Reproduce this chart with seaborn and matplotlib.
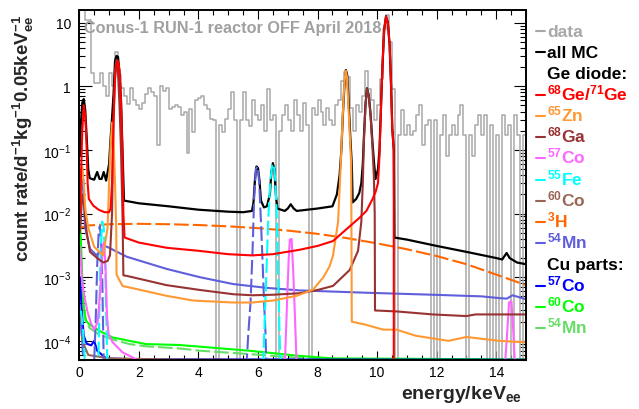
import numpy as np
import matplotlib
matplotlib.use("Agg")
import matplotlib.pyplot as plt
from matplotlib.lines import Line2D
from matplotlib.ticker import FixedLocator, FixedFormatter, MultipleLocator, LogLocator, NullFormatter
import seaborn as sns

# ---------------------------------------------------------------- data
# measured spectrum (reactor OFF), 0.1 keV wide bins starting at 0 keV
data_bin_width = 0.1
data_rate = [
    30, 30, 11, 11, 1.64, 1.14, 1.14, 1.64, 1.0, 0.71,
    1.6, 1.0, 3.4, 1.5, 0.95, 0.71, 0.52, 0.95, 0.6, 0.5,
    0.44, 0.55, 0.75, 0.95, 0.8, 0.7, 0.12, 1.0, 0.85, 0.95,
    0.44, 0.48, 0.5, 0.48, 0.35, 0.4, 0.09, 0.44, 0.19, 0.6,
    0.65, 0.7, 0.5, 0.44, 0.31, 0.3, 0, 0.25, 0.19, 0.31,
    0.44, 0.8, 0.3, 0, 0.3, 0.8, 0.3, 0.24, 0.6, 0.35,
    0.3, 0.5, 0.2, 0.9, 0.3, 0.35, 0, 0.2, 0.35, 0.5,
    0.3, 0.2, 0.6, 0.35, 0.2, 0.55, 0.25, 0, 0.45, 0.35,
    0.6, 0.4, 0.25, 0.45, 0.3, 0.25, 0.5, 0.6, 1.2, 1.7,
    1.4, 0.45, 0.2, 0.5, 0.4, 0.7, 1.76, 0.9, 0.6, 0.3,
    0.5, 1.3, 8, 13, 5, 0.9, 0, 0.17, 0.43, 0.17,
    0.25, 0.17, 0.2, 0.35, 0.5, 0.12, 0.25, 0.3, 0, 0.3,
    0, 0.17, 0.35, 0.08, 0.17, 0.25, 0.17, 0.35, 0.5, 0.17,
    0, 0.17, 0.08, 0.25, 0.35, 0.17, 0.35, 0, 0.25, 0,
    0.17, 0, 0.35, 0.17, 0.25, 0, 0.35, 0.17, 0, 0.17,
]

# simulated components as (energy keV, rate) points
all_mc = [(0.02, 0.08), (0.05, 0.25), (0.1, 0.55), (0.15, 0.63), (0.2, 0.42), (0.25, 0.15),
          (0.3, 0.05), (0.35, 0.036), (0.5, 0.034), (0.6, 0.045), (0.68, 0.035), (0.75, 0.035),
          (0.82, 0.045), (0.9, 0.033), (1.0, 0.06), (1.05, 0.15), (1.1, 0.32), (1.15, 0.75),
          (1.2, 2.5), (1.25, 3.0), (1.3, 2.9), (1.35, 1.6), (1.4, 0.6), (1.45, 0.1), (1.5, 0.016),
          (2.0, 0.0145), (3.0, 0.013), (4.0, 0.0115), (5.0, 0.0107), (5.5, 0.0105), (5.8, 0.011),
          (5.85, 0.015), (5.9, 0.035), (5.95, 0.055), (6.0, 0.052), (6.05, 0.033), (6.1, 0.016),
          (6.2, 0.0125), (6.3, 0.013), (6.4, 0.02), (6.45, 0.045), (6.5, 0.062), (6.55, 0.05),
          (6.6, 0.02), (6.65, 0.012), (6.9, 0.011), (7.0, 0.012), (7.1, 0.014), (7.2, 0.012),
          (7.3, 0.011), (8.0, 0.012), (8.5, 0.013), (8.65, 0.02), (8.74, 0.04), (8.8, 0.1),
          (8.85, 0.35), (8.9, 0.95), (8.95, 1.8), (9.0, 1.45), (9.05, 0.5), (9.1, 0.16),
          (9.15, 0.06), (9.18, 0.015), (9.3, 0.017), (9.4, 0.021), (9.47, 0.03), (9.52, 0.06),
          (9.56, 0.17), (9.61, 0.52), (9.66, 0.93), (9.72, 0.72), (9.78, 0.37), (9.84, 0.14),
          (9.9, 0.06), (9.95, 0.035), (10.03, 0.05), (10.08, 0.1), (10.13, 0.47), (10.18, 2.1),
          (10.24, 8.0), (10.3, 12.6), (10.36, 10.0), (10.42, 4.5), (10.47, 1.0), (10.51, 0.22),
          (10.56, 0.1), (10.58, 0.0042), (11.0, 0.0039), (12.0, 0.0031), (13.0, 0.0025),
          (14.0, 0.002), (14.2, 0.0019), (14.35, 0.0024), (14.45, 0.002), (14.7, 0.0017),
          (15.0, 0.0016)]

ge68_ge71 = [(0.02, 0.01), (0.05, 0.03), (0.1, 0.2), (0.15, 0.5), (0.2, 0.35), (0.25, 0.1),
             (0.28, 0.03), (0.32, 0.017), (0.47, 0.0133), (0.65, 0.0115), (0.85, 0.0105),
             (1.0, 0.0105), (1.05, 0.012), (1.1, 0.03), (1.15, 0.3), (1.2, 1.3), (1.25, 2.2),
             (1.3, 2.5), (1.35, 1.8), (1.4, 0.6), (1.45, 0.08), (1.48, 0.01), (1.52, 0.0042),
             (2.0, 0.0035), (2.93, 0.0029), (4.0, 0.0026), (5.0, 0.0023), (5.8, 0.0022),
             (6.5, 0.0023), (7.4, 0.0027), (8.0, 0.0031), (8.52, 0.0037), (9.08, 0.0063),
             (9.4, 0.0085), (9.64, 0.011), (9.85, 0.017), (9.95, 0.022), (10.03, 0.03),
             (10.08, 0.08), (10.13, 0.45), (10.18, 2.1), (10.24, 8.0), (10.3, 12.5),
             (10.36, 10.0), (10.42, 4.5), (10.47, 1.0), (10.51, 0.21), (10.56, 0.1), (10.57, 0.0)]

zn65 = [(0.02, 0.01), (0.06, 0.05), (0.1, 0.055), (0.15, 0.03), (0.2, 0.012), (0.3, 0.006),
        (0.5, 0.003), (0.8, 0.0022), (0.95, 0.006), (1.0, 0.03), (1.05, 0.12), (1.1, 0.27),
        (1.15, 0.15), (1.2, 0.03), (1.24, 0.006), (1.25, 0.0011), (1.45, 0.00073),
        (2.93, 0.00051), (3.82, 0.00043), (5.17, 0.0004), (5.8, 0.0004), (6.5, 0.00043),
        (7.3, 0.00051), (7.85, 0.00064), (8.19, 0.00099), (8.41, 0.0015), (8.52, 0.0022),
        (8.69, 0.0074), (8.74, 0.024), (8.79, 0.08), (8.84, 0.3), (8.89, 0.9), (8.94, 1.76),
        (8.99, 1.4), (9.04, 0.45), (9.09, 0.15), (9.13, 0.06), (9.15, 0.0002), (9.6, 0.00018),
        (10.2, 0.00015), (10.65, 0.00015), (11.3, 0.00012), (12.4, 0.0001), (13.0, 0.000115),
        (14.1, 0.0001), (14.75, 0.000096), (15.0, 0.000095)]

ga68 = [(0.02, 0.005), (0.1, 0.02), (0.15, 0.015), (0.25, 0.005), (0.36, 0.0025), (0.6, 0.002),
        (0.81, 0.0017), (0.95, 0.0018), (1.03, 0.0022), (1.1, 0.01), (1.15, 0.3), (1.2, 1.8),
        (1.25, 2.6), (1.3, 1.6), (1.35, 0.5), (1.4, 0.1), (1.45, 0.01), (1.48, 0.00107),
        (1.59, 0.00105), (2.93, 0.00075), (4.05, 0.00063), (5.17, 0.00054), (5.82, 0.00052),
        (6.5, 0.00053), (7.4, 0.00056), (8.0, 0.00063), (8.52, 0.00073), (9.08, 0.0013),
        (9.36, 0.0026), (9.47, 0.0074), (9.52, 0.03), (9.56, 0.15), (9.61, 0.5), (9.66, 0.91),
        (9.72, 0.7), (9.78, 0.35), (9.84, 0.12), (9.89, 0.04), (9.92, 0.01), (9.93, 0.0003),
        (10.65, 0.00029), (11.87, 0.00026), (13.0, 0.000245), (13.3, 0.00026), (14.1, 0.00026),
        (15.0, 0.00026)]

co57_ge = [(0.02, 0.003), (0.1, 0.0008), (0.17, 0.0005), (0.28, 0.00028), (0.39, 0.00019),
           (0.5, 0.00015), (0.62, 0.0002), (0.72, 0.0008), (0.78, 0.003), (0.83, 0.0035),
           (0.88, 0.0015), (0.93, 0.00025), (0.98, 0.00013), (1.12, 0.000095), (1.45, 0.000066),
           (1.79, 0.000055), (2.1, 0.000045), (6.9, 0.00004), (6.98, 0.00045), (7.03, 0.0019),
           (7.07, 0.0039), (7.13, 0.004), (7.19, 0.00105), (7.24, 0.00025), (7.3, 0.00004),
           (14.29, 0.00004), (14.35, 0.0001), (14.43, 0.0004), (14.51, 0.00042),
           (14.57, 0.00015), (14.63, 0.00004), (15.0, 0.00004)]

fe55 = [(0.05, 0.0003), (0.1, 0.0002), (0.15, 0.0001), (0.2, 0.00003), (0.6, 0.00003),
        (0.64, 0.00005), (0.68, 0.0004), (0.72, 0.003), (0.77, 0.0075), (0.82, 0.006),
        (0.87, 0.0015), (0.91, 0.0002), (0.95, 0.00003), (6.15, 0.00003), (6.18, 0.00005),
        (6.23, 0.00024), (6.29, 0.0015), (6.35, 0.0093), (6.42, 0.035), (6.48, 0.058),
        (6.53, 0.06), (6.58, 0.035), (6.63, 0.0093), (6.68, 0.00084), (6.74, 0.000074),
        (6.78, 0.00003), (15.0, 0.00003)]

co60_ge = [(0.02, 0.0003), (0.1, 0.0001), (0.3, 0.00006), (1.0, 0.000053), (3.0, 0.000051),
           (15.0, 0.000048)]

h3 = [(0.05, 0.006), (0.3, 0.0065), (1.0, 0.0068), (2.0, 0.0069), (3.0, 0.0068), (4.0, 0.0066),
      (5.0, 0.0063), (6.0, 0.0059), (7.0, 0.0054), (8.0, 0.0048), (9.0, 0.0041), (10.0, 0.0034),
      (11.0, 0.00275), (12.0, 0.00215), (13.0, 0.0016), (14.0, 0.0011), (15.0, 0.00075)]

mn54_ge = [(0.02, 0.005), (0.08, 0.03), (0.13, 0.035), (0.19, 0.0062), (0.36, 0.0028),
           (0.58, 0.0022), (0.7, 0.0025), (0.86, 0.0031), (1.0, 0.0029), (1.59, 0.0021),
           (2.93, 0.00135), (4.05, 0.001), (5.17, 0.00078), (6.29, 0.00068), (7.4, 0.00062),
           (9.64, 0.00057), (11.87, 0.00053), (13.5, 0.0005), (14.1, 0.00047), (14.35, 0.00046),
           (14.55, 0.00052), (14.8, 0.00048), (15.0, 0.00045)]

# Cr X-ray lines from 54Mn electron capture in the diode
mn54_ge_lines = [(0.05, 0.0002), (0.1, 0.0001), (0.15, 0.00003), (0.45, 0.00003), (0.5, 0.00005),
                 (0.55, 0.0002), (0.6, 0.0015), (0.65, 0.005), (0.69, 0.0064), (0.73, 0.004),
                 (0.77, 0.001), (0.8, 0.00015), (0.83, 0.00003), (5.6, 0.00003), (5.67, 0.00012),
                 (5.75, 0.0004), (5.82, 0.0028), (5.87, 0.017), (5.93, 0.05), (5.99, 0.055),
                 (6.04, 0.031), (6.1, 0.0074), (6.16, 0.0015), (6.2, 0.00045), (6.25, 0.00014),
                 (6.29, 0.00003), (15.0, 0.00003)]

co57_cu = [(0.02, 0.001), (0.08, 0.0003), (0.15, 0.00012), (0.25, 0.00009), (0.4, 0.000085),
           (0.5, 0.0001), (0.6, 0.00007), (0.9, 0.000053), (2.0, 0.0000512), (15.0, 0.0000505)]

co60_cu = [(0.02, 0.008), (0.05, 0.004), (0.1, 0.001), (0.15, 0.00035), (0.22, 0.00021),
           (0.34, 0.00018), (0.67, 0.000144), (1.12, 0.000113), (1.68, 0.0001), (2.24, 0.000089),
           (3.36, 0.000086), (4.05, 0.000081), (5.7, 0.00007), (7.4, 0.000058), (8.5, 0.000053),
           (15.0, 0.000051)]

mn54_cu = [(0.02, 0.005), (0.05, 0.002), (0.1, 0.0006), (0.15, 0.0003), (0.2, 0.00022),
           (0.34, 0.00016), (0.67, 0.000125), (1.12, 0.000105), (1.68, 0.000089),
           (2.24, 0.000082), (3.36, 0.000076), (4.05, 0.00007), (5.7, 0.000062), (7.4, 0.000054),
           (9.0, 0.000051), (15.0, 0.000048)]

y_tick_values = [1e-4, 1e-3, 1e-2, 1e-1, 1, 10]
y_tick_labels = [r"$\mathregular{10^{-4}}$", r"$\mathregular{10^{-3}}$", r"$\mathregular{10^{-2}}$",
                 r"$\mathregular{10^{-1}}$", "1", "10"]
x_tick_values = [0, 2, 4, 6, 8, 10, 12, 14]

# ---------------------------------------------------------------- style
sns.set_theme(style="ticks")
plt.rcParams["font.family"] = ["Liberation Sans", "DejaVu Sans"]
plt.rcParams["mathtext.fontset"] = "custom"
plt.rcParams["mathtext.rm"] = "Liberation Sans"
plt.rcParams["mathtext.bf"] = "Liberation Sans:bold"
plt.rcParams["mathtext.default"] = "regular"

C_DATA = "#a8a8a8"
C_TITLE = "#a0a0a0"
C_GE = "#ff0000"
C_ZN = "#ff9933"
C_GA = "#993333"
C_CO57 = "#ff66ff"
C_FE = "#00ffff"
C_CO60 = "#996655"
C_H3 = "#ff6600"
C_MN = "#5f5fdc"
C_CO57CU = "#0000ff"
C_CO60CU = "#00ff00"
C_MNCU = "#66dd66"

W, H = 639, 410
fig = plt.figure(figsize=(W / 100, H / 100), dpi=100)
ax = fig.add_axes([79.3 / W, 1 - 361 / H, 446.7 / W, 350 / H])

DASH = (0, (7, 2))


def draw(points, color, lw=1.5, ls="-", z=2):
    e, r = zip(*points)
    sns.lineplot(x=np.array(e), y=np.array(r), ax=ax, color=color, lw=lw, linestyle=ls,
                 estimator=None, sort=False, legend=False, zorder=z)


# measured spectrum as a step histogram
edges = np.arange(len(data_rate) + 1) * data_bin_width
sns.lineplot(x=edges, y=np.append(data_rate, data_rate[-1]), ax=ax, color=C_DATA, lw=1.1,
             drawstyle="steps-post", estimator=None, sort=False, legend=False, zorder=1)

draw(all_mc, "black", lw=1.6, z=2)
draw(mn54_cu, C_MNCU, ls=DASH)
draw(co60_cu, C_CO60CU)
draw(co57_cu, C_CO57CU)
draw(co60_ge, C_CO60)
draw(h3, C_H3, ls=DASH)
draw(mn54_ge, C_MN)
draw(mn54_ge_lines, C_MN, ls=DASH)
draw(fe55, C_FE, ls=DASH)
draw(co57_ge, C_CO57)
draw(ga68, C_GA)
draw(zn65, C_ZN)
draw(ge68_ge71, C_GE)

ax.set_yscale("log")
ax.set_xlim(0, 15)
ax.set_ylim(5e-5, 15.8)

# ---------------------------------------------------------------- axes
ax.xaxis.set_major_locator(FixedLocator(x_tick_values))
ax.xaxis.set_minor_locator(MultipleLocator(0.5))
ax.yaxis.set_major_locator(FixedLocator(y_tick_values))
ax.yaxis.set_major_formatter(FixedFormatter(y_tick_labels))
ax.yaxis.set_minor_locator(LogLocator(base=10, subs=np.arange(2, 10)))
ax.yaxis.set_minor_formatter(NullFormatter())

ax.tick_params(axis="both", which="both", direction="in", top=True, right=True,
               colors="black", width=0.8, labelsize=10)
ax.tick_params(axis="x", which="major", length=6.5, pad=3.5)
ax.tick_params(axis="x", which="minor", length=3.5)
ax.tick_params(axis="y", which="major", length=9, pad=6)
ax.tick_params(axis="y", which="minor", length=4.5)
for s in ax.spines.values():
    s.set_linewidth(1.4)
    s.set_color("black")

ax.set_xlabel(r"energy/keV$_{\mathbf{ee}}$", fontsize=14, fontweight="bold", loc="right")
ax.xaxis.set_label_coords(0.992, -0.066)
ax.set_ylabel(r"count rate/d$^{\mathbf{-1}}$kg$^{\mathbf{-1}}$0.05keV$_{\mathbf{ee}}^{\mathbf{-1}}$",
              fontsize=13.5, fontweight="bold", loc="top")
ax.yaxis.set_label_coords(-0.097, 0.99)

ax.text(0.0105, 0.936, "Conus-1 RUN-1 reactor OFF April 2018", transform=ax.transAxes,
        fontsize=11.7, fontweight="bold", color=C_TITLE, ha="left", va="baseline", zorder=5)

# ---------------------------------------------------------------- legend
legend_entries = [
    ("data", C_DATA, True),
    ("all MC", "black", True),
    ("Ge diode:", "black", False),
    (r"$^{\mathbf{68}}$Ge/$^{\mathbf{71}}$Ge", C_GE, True),
    (r"$^{\mathbf{65}}$Zn", C_ZN, True),
    (r"$^{\mathbf{68}}$Ga", C_GA, True),
    (r"$^{\mathbf{57}}$Co", C_CO57, True),
    (r"$^{\mathbf{55}}$Fe", C_FE, True),
    (r"$^{\mathbf{60}}$Co", C_CO60, True),
    (r"$^{\mathbf{3}}$H", C_H3, True),
    (r"$^{\mathbf{54}}$Mn", C_MN, True),
    ("Cu parts:", "black", False),
    (r"$^{\mathbf{57}}$Co", C_CO57CU, True),
    (r"$^{\mathbf{60}}$Co", C_CO60CU, True),
    (r"$^{\mathbf{54}}$Mn", C_MNCU, True),
]
for i, (label, color, with_line) in enumerate(legend_entries):
    base = 36.7 + 21.2 * i
    if with_line:
        fig.add_artist(Line2D([536 / W, 545 / W], [1 - (base - 4.5) / H] * 2,
                              color=color, lw=1.5, transform=fig.transFigure))
    fig.text(547 / W, 1 - base / H, label, color=color, fontsize=12.5, fontweight="bold",
             ha="left", va="baseline")

fig.savefig("out.png", dpi=100)
